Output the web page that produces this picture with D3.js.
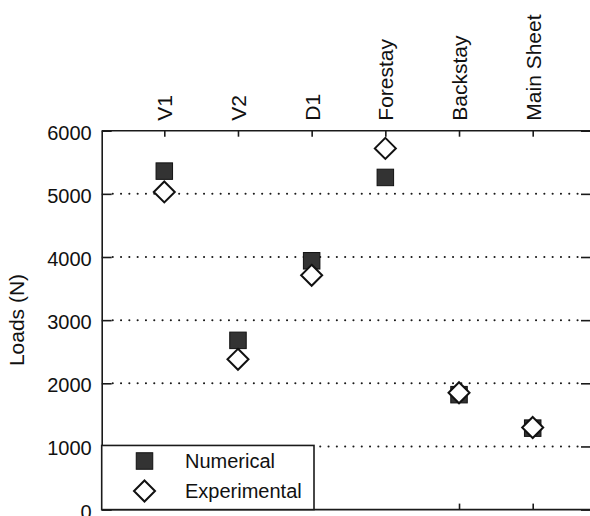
<!DOCTYPE html>
<html>
<head>
<meta charset="utf-8">
<script src="https://cdn.jsdelivr.net/npm/d3@7"></script>
<style>
  body { margin: 0; background: #fff; }
  svg { display: block; }
  text { font-family: "Liberation Sans", Arial, sans-serif; fill: #111; }
</style>
</head>
<body>
<svg class="chart" width="590" height="516"></svg>
<script>
// data
const categories = ["V1", "V2", "D1", "Forestay", "Backstay", "Main Sheet"];
const numerical = [5360, 2680, 3940, 5260, 1820, 1290];
const experimental = [5030, 2380, 3710, 5720, 1850, 1300];
const yTicks = [0, 1000, 2000, 3000, 4000, 5000, 6000];
const gridValues = [1000, 2000, 3000, 4000, 5000];
const bottomTicks = [5, 6]; // only these show on the bottom edge
const legendLabels = ["Numerical", "Experimental"];

const svg = d3.select(".chart");

// plot box
const plotLeft = 101.7, plotRight = 591, plotTop = 130.7, plotBottom = 509.6;

const x = d3.scaleLinear().domain([1, 6]).range([164.3, 532.7]);
const y = d3.scaleLinear().domain([0, 6000]).range([plotBottom, plotTop]);

const ink = "#1a1a1a";

// dotted grid lines
svg.append("g")
  .selectAll("line")
  .data(gridValues)
  .join("line")
  .attr("x1", plotLeft + 11)
  .attr("x2", plotRight - 12)
  .attr("y1", d => y(d))
  .attr("y2", d => y(d))
  .attr("stroke", ink)
  .attr("stroke-width", 2)
  .attr("stroke-linecap", "round")
  .attr("stroke-dasharray", "0.1,8.2");

// left axis with ticks
const yAxis = d3.axisLeft(y).tickValues(yTicks).tickSize(-10).tickPadding(20)
  .tickSizeOuter(0).tickFormat(d3.format("d"));
const gy = svg.append("g").attr("transform", `translate(${plotLeft},0)`).call(yAxis);
gy.selectAll("text")
  .style("font-size", "20px")
  .attr("dy", "0.42em")
  .attr("x", -10);

// right axis ticks (axis line just outside the window)
svg.append("g").attr("transform", `translate(${plotRight},0)`)
  .call(d3.axisRight(y).tickValues(yTicks).tickSize(-10).tickSizeOuter(0).tickFormat(""));

// top axis with category labels
const idx = d3.range(1, categories.length + 1);
const gt = svg.append("g").attr("transform", `translate(0,${plotTop})`)
  .call(d3.axisTop(x).tickValues(idx).tickSize(-6).tickSizeOuter(0)
    .tickFormat(i => categories[i - 1]));
gt.select(".domain").remove();
gt.selectAll("text")
  .style("font-size", "21px")
  .attr("transform", "rotate(-90)")
  .attr("text-anchor", "start")
  .attr("x", 10)
  .attr("y", 0)
  .attr("dy", "0.36em");

// bottom axis ticks
const gb = svg.append("g").attr("transform", `translate(0,${plotBottom})`)
  .call(d3.axisBottom(x).tickValues(bottomTicks).tickSize(-6).tickSizeOuter(0).tickFormat(""));
gb.select(".domain").remove();

// box lines
svg.append("line").attr("x1", plotLeft).attr("x2", plotRight).attr("y1", plotTop).attr("y2", plotTop)
  .attr("stroke", ink).attr("stroke-width", 1.6);
svg.append("line").attr("x1", plotLeft).attr("x2", plotRight).attr("y1", plotBottom).attr("y2", plotBottom)
  .attr("stroke", ink).attr("stroke-width", 1.6);

svg.selectAll(".domain").attr("stroke", ink).attr("stroke-width", 1.6);
svg.selectAll(".tick line").attr("stroke", ink).attr("stroke-width", 1.6);

// y axis label
svg.append("text")
  .attr("transform", `translate(24,320) rotate(-90)`)
  .attr("text-anchor", "middle")
  .style("font-size", "21px")
  .text("Loads (N)");

// markers
const sq = 16.5;
const dia = 10.5;
const diamondPath = (cx, cy) => `M${cx},${cy - dia}L${cx + dia},${cy}L${cx},${cy + dia}L${cx - dia},${cy}Z`;

svg.append("g")
  .selectAll("rect")
  .data(numerical)
  .join("rect")
  .attr("x", (d, i) => x(i + 1) - sq / 2)
  .attr("y", d => y(d) - sq / 2)
  .attr("width", sq)
  .attr("height", sq)
  .attr("fill", "#333")
  .attr("stroke", "#111")
  .attr("stroke-width", 1);

svg.append("g")
  .selectAll("path")
  .data(experimental)
  .join("path")
  .attr("d", (d, i) => diamondPath(x(i + 1), y(d)))
  .attr("fill", "#fff")
  .attr("stroke", "#111")
  .attr("stroke-width", 2);

// legend
const lg = svg.append("g");
lg.append("rect")
  .attr("x", plotLeft)
  .attr("y", y(1000) - 1)
  .attr("width", 314 - plotLeft)
  .attr("height", plotBottom - y(1000) + 1)
  .attr("fill", "#fff")
  .attr("stroke", ink)
  .attr("stroke-width", 1.6);

const legendY = [461, 491];
lg.append("rect")
  .attr("x", 144.5 - sq / 2).attr("y", legendY[0] - sq / 2)
  .attr("width", sq).attr("height", sq)
  .attr("fill", "#333").attr("stroke", "#111");
lg.append("path")
  .attr("d", diamondPath(144.5, legendY[1]))
  .attr("fill", "#fff").attr("stroke", "#111").attr("stroke-width", 2);

lg.selectAll("text")
  .data(legendLabels)
  .join("text")
  .attr("x", 185)
  .attr("y", (d, i) => legendY[i])
  .attr("dy", "0.36em")
  .style("font-size", "20px")
  .text(d => d);
</script>
</body>
</html>
